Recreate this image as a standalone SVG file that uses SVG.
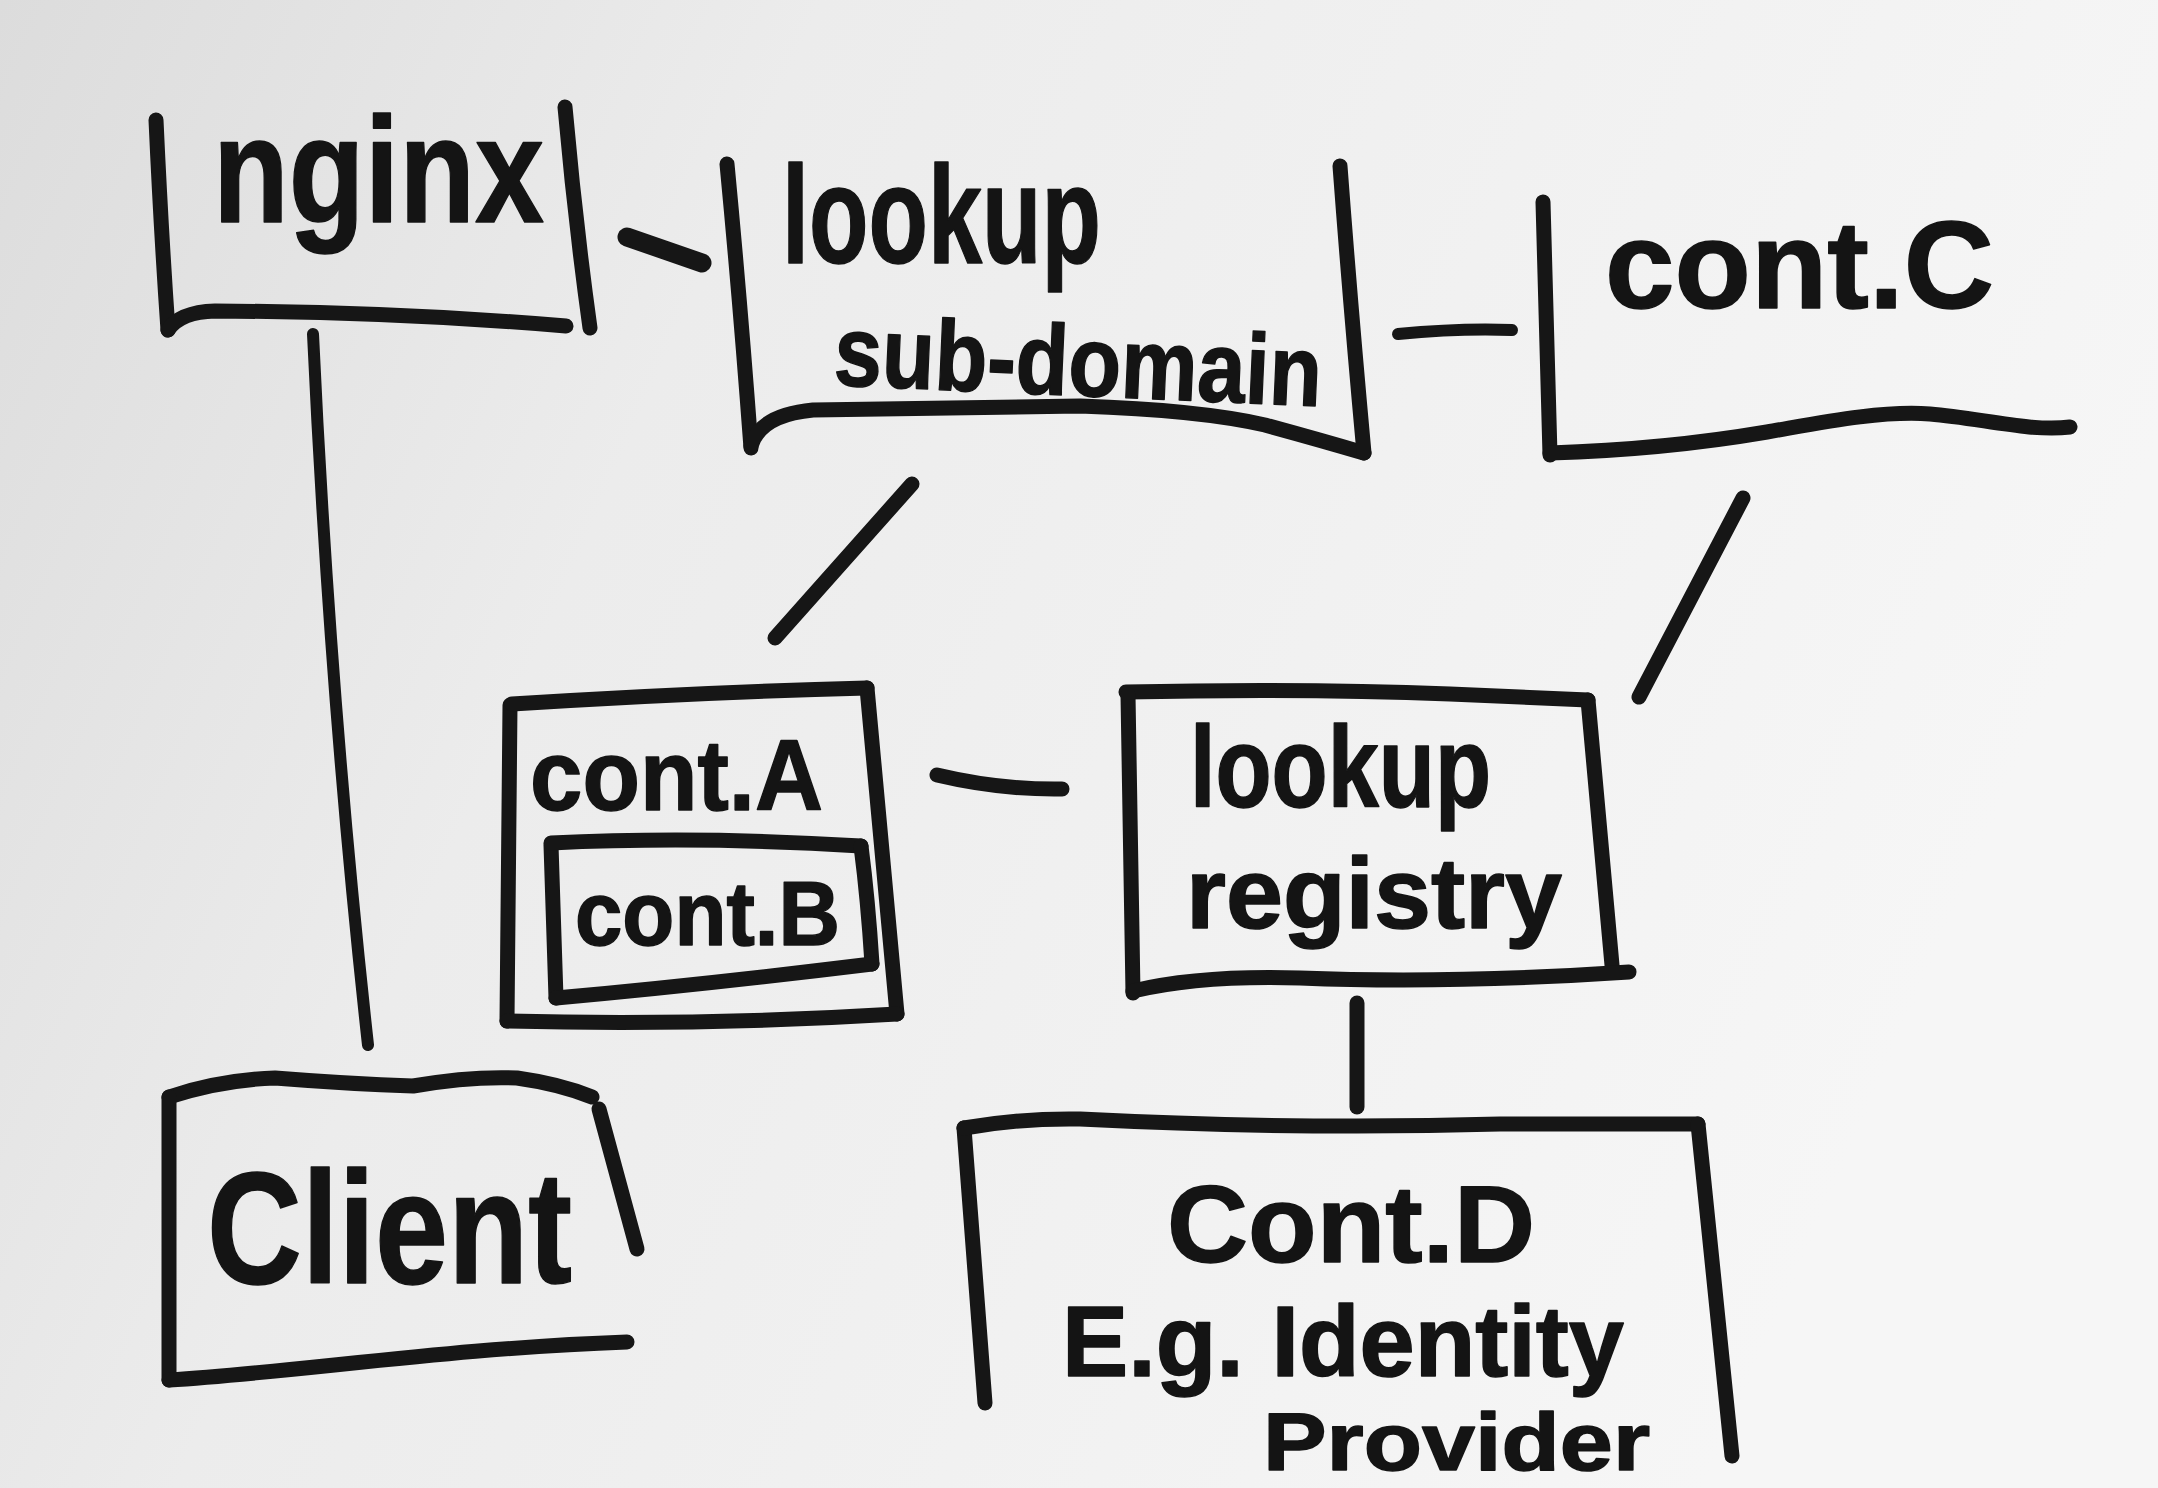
<svg xmlns="http://www.w3.org/2000/svg" width="2158" height="1488" viewBox="0 0 2158 1488">
<defs>
<linearGradient id="bg" x1="0" y1="0" x2="1" y2="0.3">
<stop offset="0" stop-color="#dcdcdc"/>
<stop offset="0.35" stop-color="#ececec"/>
<stop offset="1" stop-color="#f6f6f6"/>
</linearGradient>
<style>
.ln{fill:none;stroke:#161616;stroke-width:15;stroke-linecap:round;stroke-linejoin:round}
.thin{stroke-width:12}
.thick{stroke-width:19}
.tx{font-family:"Liberation Sans","Arial",sans-serif;font-weight:bold;fill:#141414;stroke:#141414;stroke-width:1.5;stroke-linejoin:round}
</style>
</defs>
<rect width="2158" height="1488" fill="url(#bg)"/>

<g id="connectors">
<path class="ln thick" d="M627,237 L702,263"/>
<path class="ln thin" d="M1398,334 Q1460,328 1512,330"/>
<path class="ln" d="M912,484 L775,638"/>
<path class="ln" d="M1743,498 L1639,697"/>
<path class="ln thin" d="M313,334 Q330,700 368,1045"/>
<path class="ln" d="M937,775 Q1000,790 1062,789"/>
<path class="ln" d="M1357,1003 L1357,1107"/>
</g>

<g id="nginx">
<path class="ln" d="M156,120 Q161,230 168,330"/>
<path class="ln" d="M168,330 Q180,312 215,311 Q400,312 566,326"/>
<path class="ln" d="M565,107 Q575,220 590,328"/>
<text class="tx" x="213" y="222" font-size="150" textLength="331" lengthAdjust="spacingAndGlyphs">nginx</text>
</g>

<g id="lookup-subdomain">
<path class="ln" d="M727,164 Q740,300 751,448"/>
<path class="ln" d="M751,446 Q760,415 813,410 L1080,406 Q1200,410 1265,425 Q1320,440 1364,453"/>
<path class="ln" d="M1340,166 Q1350,300 1364,453"/>
<text class="tx" x="782" y="263" font-size="140" textLength="319" lengthAdjust="spacingAndGlyphs">lookup</text>
<text class="tx" x="833" y="385" font-size="100" textLength="488" lengthAdjust="spacingAndGlyphs" transform="rotate(2.5 833 385)">sub-domain</text>
</g>

<g id="cont-c">
<path class="ln" d="M1543,202 Q1546,330 1550,455"/>
<path class="ln" d="M1550,453 C1650,450 1720,440 1767,432 S1880,410 1930,414 S2030,432 2070,427"/>
<text class="tx" x="1605" y="308" font-size="125" textLength="389" lengthAdjust="spacingAndGlyphs">cont.C</text>
</g>

<g id="cont-a">
<path class="ln" d="M510,705 L507,1021"/>
<path class="ln" d="M512,704 Q700,692 867,688"/>
<path class="ln" d="M867,688 Q882,850 897,1014"/>
<path class="ln" d="M507,1021 Q700,1026 897,1014"/>
<text class="tx" x="530" y="810" font-size="100" textLength="293" lengthAdjust="spacingAndGlyphs">cont.A</text>
<g id="cont-b">
<path class="ln" d="M551,845 L556,998"/>
<path class="ln" d="M551,843 Q700,836 861,846"/>
<path class="ln" d="M861,846 Q868,900 872,964"/>
<path class="ln" d="M556,998 Q700,985 872,964"/>
<text class="tx" x="575" y="945" font-size="90" textLength="265" lengthAdjust="spacingAndGlyphs">cont.B</text>
</g>
</g>

<g id="lookup-registry">
<path class="ln" d="M1126,692 Q1300,688 1450,694 L1588,700"/>
<path class="ln" d="M1128,695 L1133,993"/>
<path class="ln" d="M1588,700 Q1600,830 1612,965"/>
<path class="ln" d="M1133,991 Q1200,975 1300,978 Q1450,984 1629,972"/>
<text class="tx" x="1190" y="807" font-size="115" textLength="301" lengthAdjust="spacingAndGlyphs">lookup</text>
<text class="tx" x="1186" y="928" font-size="100" textLength="376" lengthAdjust="spacingAndGlyphs">registry</text>
</g>

<g id="client">
<path class="ln" d="M169,1097 Q220,1080 275,1078 Q350,1084 413,1086 Q470,1076 517,1078 Q560,1084 592,1097"/>
<path class="ln" d="M169,1097 L169,1380"/>
<path class="ln" d="M599,1109 L637,1249"/>
<path class="ln" d="M169,1380 C300,1372 450,1348 627,1342"/>
<text class="tx" x="207" y="1283" font-size="160" textLength="365" lengthAdjust="spacingAndGlyphs">Client</text>
</g>

<g id="cont-d">
<path class="ln" d="M964,1128 L985,1403"/>
<path class="ln" d="M964,1128 Q1020,1118 1080,1119 Q1300,1130 1500,1124 L1698,1124"/>
<path class="ln" d="M1698,1124 L1732,1456"/>
<text class="tx" x="1167" y="1262" font-size="110" textLength="368" lengthAdjust="spacingAndGlyphs">Cont.D</text>
<text class="tx" x="1062" y="1376" font-size="100" textLength="562" lengthAdjust="spacingAndGlyphs">E.g. Identity</text>
<text class="tx" x="1263" y="1470" font-size="82" textLength="387" lengthAdjust="spacingAndGlyphs">Provider</text>
</g>
</svg>
